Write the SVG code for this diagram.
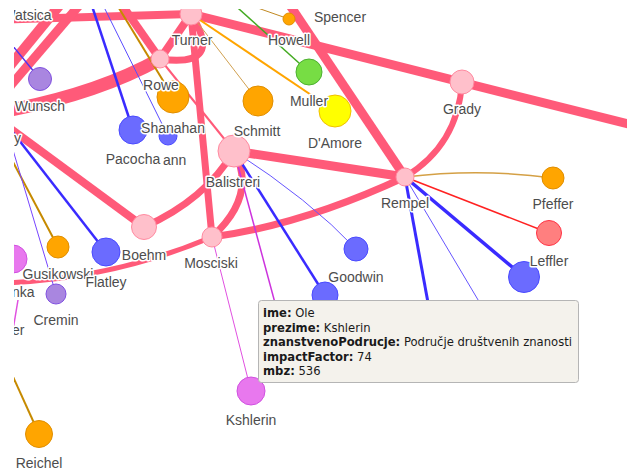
<svg xmlns="http://www.w3.org/2000/svg" width="627" height="472" viewBox="0 0 627 472">
<style>
.lk{fill:none;stroke-linecap:butt}
.pk{stroke:#ff5a79}
.lbl{font-family:"Liberation Sans",Arial,sans-serif;font-size:14px;fill:#4d4d4d;text-anchor:middle;stroke:#fff;stroke-width:3px;stroke-linejoin:round;paint-order:stroke}
.np{fill:#ffc0cb;stroke:#ff8aa0;stroke-width:1}
.nb{fill:#6b6bff;stroke:#4a4aff;stroke-width:1}
.no{fill:#ffa500;stroke:#e08e00;stroke-width:1}
.ng{fill:#77dd44;stroke:#4cb030;stroke-width:1}
.ny{fill:#ffff00;stroke:#f0c000;stroke-width:1}
.nv{fill:#a986e0;stroke:#8050e0;stroke-width:1}
.nr{fill:#ff7f7f;stroke:#ff3344;stroke-width:1}
.nm{fill:#e878ee;stroke:#d050e0;stroke-width:1}
.tt{font-family:"DejaVu Sans",Verdana,sans-serif;font-size:11.6px;fill:#1a1a1a}
.tt tspan.b{font-weight:bold}
</style>
<defs>
<clipPath id="view"><rect x="14" y="9" width="613" height="463"/></clipPath>
</defs>
<rect x="0" y="0" width="627" height="472" fill="#fff"/>
<g clip-path="url(#view)">
<g id="links">
<line class="lk pk" x1="191" y1="14" x2="640" y2="127" stroke-width="9"/>
<line class="lk pk" x1="283" y1="-5" x2="405" y2="177" stroke-width="9"/>
<line class="lk pk" x1="234" y1="151" x2="405" y2="177" stroke-width="9"/>
<path class="lk pk" d="M212 237 Q302 225 405 177" stroke-width="7"/>
<path class="lk pk" d="M462 82 Q458 145 405 177" stroke-width="6"/>
<line class="lk pk" x1="191" y1="14" x2="212" y2="237" stroke-width="7"/>
<line class="lk pk" x1="191" y1="14" x2="160" y2="59" stroke-width="8"/>
<path class="lk pk" d="M191 14 Q225 68 160 59" stroke-width="7"/>
<line class="lk pk" x1="115" y1="-5" x2="160" y2="59" stroke-width="8"/>
<path class="lk pk" d="M0 112 Q95 95 160 59" stroke-width="13"/>
<line class="lk pk" x1="-10" y1="20" x2="191" y2="14" stroke-width="8"/>
<line class="lk pk" x1="0" y1="78" x2="68" y2="-5" stroke-width="10"/>
<line class="lk pk" x1="0" y1="98" x2="88" y2="-5" stroke-width="9"/>
<line class="lk pk" x1="0" y1="121" x2="144" y2="227" stroke-width="8"/>
<path class="lk pk" d="M144 227 Q205 200 234 151" stroke-width="7"/>
<path class="lk pk" d="M234 151 Q258 195 212 237" stroke-width="7"/>
<path class="lk pk" d="M0 283 Q110 280 212 237" stroke-width="5"/>
<line class="lk pk" x1="160" y1="59" x2="234" y2="151" stroke-width="2"/>
<line class="lk" x1="90" y1="0" x2="133" y2="130" stroke="#3a2bff" stroke-width="2.5"/>
<line class="lk" x1="100" y1="-1" x2="168" y2="136" stroke="#5a4bff" stroke-width="1"/>
<line class="lk" x1="114" y1="0" x2="173" y2="97" stroke="#c68a00" stroke-width="2"/>
<line class="lk" x1="8" y1="40" x2="40" y2="79" stroke="#5533ee" stroke-width="1.5"/>
<line class="lk" x1="8" y1="126" x2="106" y2="252" stroke="#3a2bff" stroke-width="2.5"/>
<line class="lk" x1="12" y1="160" x2="58" y2="247" stroke="#c68a00" stroke-width="2"/>
<line class="lk" x1="10" y1="140" x2="56" y2="294" stroke="#7744ff" stroke-width="1"/>
<line class="lk" x1="10" y1="370" x2="39" y2="434" stroke="#c68a00" stroke-width="2"/>
<line class="lk" x1="18" y1="300" x2="13" y2="330" stroke="#e050e0" stroke-width="1.5"/>
<line class="lk" x1="212" y1="237" x2="251" y2="391" stroke="#e050e0" stroke-width="1"/>
<line class="lk" x1="234" y1="151" x2="285" y2="340" stroke="#cc33dd" stroke-width="1.5"/>
<line class="lk" x1="234" y1="151" x2="325" y2="295" stroke="#3a2bff" stroke-width="2.5"/>
<path class="lk" d="M234 151 Q310 200 356 249" stroke="#6655ff" stroke-width="1"/>
<path class="lk" d="M405 177 Q480 168 553 178" stroke="#d4a045" stroke-width="1.5"/>
<line class="lk" x1="405" y1="177" x2="549" y2="233" stroke="#ff2222" stroke-width="1.5"/>
<line class="lk" x1="405" y1="177" x2="524" y2="277" stroke="#3a2bff" stroke-width="3.5"/>
<line class="lk" x1="405" y1="177" x2="490" y2="320" stroke="#6655ff" stroke-width="1"/>
<line class="lk" x1="405" y1="177" x2="433" y2="330" stroke="#3a2bff" stroke-width="3"/>
<line class="lk" x1="191" y1="14" x2="335" y2="111" stroke="#ffa500" stroke-width="2"/>
<line class="lk" x1="229" y1="0" x2="309" y2="72" stroke="#44aa22" stroke-width="1.5"/>
<line class="lk" x1="235" y1="0" x2="289" y2="19" stroke="#c08820" stroke-width="1"/>
<line class="lk" x1="191" y1="14" x2="258" y2="101" stroke="#d0a050" stroke-width="1"/>
</g>
<g id="node-magenta"><circle class="nm" cx="13" cy="259" r="14"/></g>
<g id="node-turner"><circle class="np" cx="191" cy="14" r="11"/></g>
<g id="node-rowe"><circle class="np" cx="160" cy="59" r="9"/></g>
<g id="node-howell"><circle class="no" cx="289" cy="19" r="6"/></g>
<g id="node-muller"><circle class="ng" cx="309" cy="72" r="13"/></g>
<g id="node-damore"><circle class="ny" cx="335" cy="111" r="16"/></g>
<g id="node-schmitt"><circle class="no" cx="258" cy="101" r="15"/></g>
<g id="node-grady"><circle class="np" cx="462" cy="82" r="12"/></g>
<g id="node-shanahan"><circle class="no" cx="173" cy="97" r="16"/></g>
<g id="node-pacocha"><circle class="nb" cx="133" cy="130" r="14"/></g>
<g id="node-ann"><circle class="nb" cx="168" cy="136" r="9"/></g>
<g id="node-wunsch"><circle class="nv" cx="40" cy="79" r="11.5"/></g>
<g id="node-balistreri"><circle class="np" cx="234" cy="151" r="16"/></g>
<g id="node-rempel"><circle class="np" cx="405" cy="177" r="9"/></g>
<g id="node-pfeffer"><circle class="no" cx="553" cy="178" r="11"/></g>
<g id="node-leffler"><circle class="nr" cx="549" cy="233" r="12.5"/></g>
<g id="node-blue-right"><circle class="nb" cx="524" cy="277" r="15.5"/></g>
<g id="node-goodwin"><circle class="nb" cx="356" cy="249" r="12"/></g>
<g id="node-blue-mid"><circle class="nb" cx="325" cy="295" r="13"/></g>
<g id="node-mosciski"><circle class="np" cx="212" cy="237" r="10"/></g>
<g id="node-boehm"><circle class="np" cx="144" cy="227" r="12.5"/></g>
<g id="node-flatley"><circle class="nb" cx="106" cy="252" r="14"/></g>
<g id="node-gusikowski"><circle class="no" cx="58" cy="247" r="11"/></g>
<g id="node-cremin"><circle class="nv" cx="56" cy="294" r="10"/></g>
<g id="node-kshlerin"><circle class="nm" cx="251" cy="391" r="14"/></g>
<g id="node-reichel"><circle class="no" cx="39" cy="434" r="13.5"/></g>
<g id="labels">
<text class="lbl" x="27" y="20">Watsica</text>
<text class="lbl" x="192" y="45">Turner</text>
<text class="lbl" x="161" y="90">Rowe</text>
<text class="lbl" x="340" y="22">Spencer</text>
<text class="lbl" x="289" y="45">Howell</text>
<text class="lbl" x="309" y="106">Muller</text>
<text class="lbl" x="335" y="148">D'Amore</text>
<text class="lbl" x="257" y="136">Schmitt</text>
<text class="lbl" x="462" y="114">Grady</text>
<text class="lbl" x="173" y="133">Shanahan</text>
<text class="lbl" x="163" y="165" style="text-anchor:start">ann</text>
<text class="lbl" x="133" y="164">Pacocha</text>
<text class="lbl" x="40" y="111">Wunsch</text>
<text class="lbl" x="14" y="143" style="text-anchor:start">y</text>
<text class="lbl" x="233" y="187">Balistreri</text>
<text class="lbl" x="405" y="208">Rempel</text>
<text class="lbl" x="553" y="209">Pfeffer</text>
<text class="lbl" x="549" y="266">Leffler</text>
<text class="lbl" x="356" y="282">Goodwin</text>
<text class="lbl" x="211" y="268">Mosciski</text>
<text class="lbl" x="144" y="260">Boehm</text>
<text class="lbl" x="58" y="279">Gusikowski</text>
<text class="lbl" x="106" y="287">Flatley</text>
<text class="lbl" x="12" y="297" style="text-anchor:start">nka</text>
<text class="lbl" x="56" y="325">Cremin</text>
<text class="lbl" x="12" y="335" style="text-anchor:start">er</text>
<text class="lbl" x="39" y="468">Reichel</text>
<text class="lbl" x="251" y="425">Kshlerin</text>
</g>
</g>
<g id="tooltip">
<rect x="258.5" y="300.5" width="320" height="82" rx="3" fill="#f4f2ec" stroke="#b5b5b5" stroke-width="1"/>
<text class="tt" x="263" y="317"><tspan class="b">ime:</tspan> Ole</text>
<text class="tt" x="263" y="331.5"><tspan class="b">prezime:</tspan> Kshlerin</text>
<text class="tt" x="263" y="346"><tspan class="b">znanstvenoPodrucje:</tspan> Područje društvenih znanosti</text>
<text class="tt" x="263" y="360.5"><tspan class="b">impactFactor:</tspan> 74</text>
<text class="tt" x="263" y="375"><tspan class="b">mbz:</tspan> 536</text>
</g>
</svg>
